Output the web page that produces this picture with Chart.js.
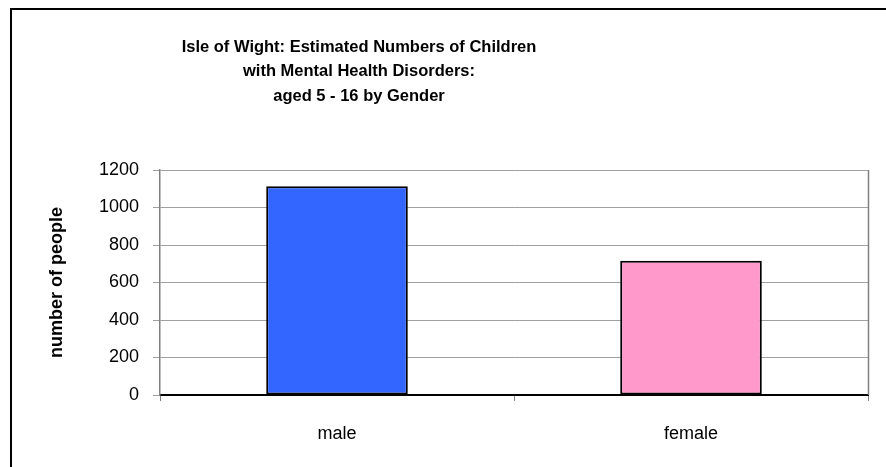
<!DOCTYPE html>
<html>
<head>
<meta charset="utf-8">
<script src="https://cdn.jsdelivr.net/npm/chart.js@4"></script>
<style>
  html, body { margin: 0; padding: 0; background: #fff; }
  #wrap { position: relative; width: 886px; height: 467px; }
</style>
</head>
<body>
<div id="wrap"><canvas id="chart" width="886" height="467"></canvas></div>
<script>
  // chart data
  const categories = ["male", "female"];
  const values = [1113, 716];
  const barColors = ["#3366FF", "#FF99CC"];
  const titleLines = [
    "Isle of Wight: Estimated Numbers of Children",
    "with Mental Health Disorders:",
    "aged 5 - 16 by Gender"
  ];
  const yTitle = "number of people";

  const FONT = "'Liberation Sans', Arial, sans-serif";

  // outer frame, title and plot border, drawn by hand like the excel original
  const framePlugin = {
    id: "frame",
    beforeDraw(chart) {
      const ctx = chart.ctx;
      ctx.save();
      ctx.fillStyle = "#fff";
      ctx.fillRect(0, 0, chart.width, chart.height);
      ctx.strokeStyle = "#000";
      ctx.lineWidth = 2;
      ctx.strokeRect(11, 9, 900, 500);
      ctx.restore();
    },
    afterDraw(chart) {
      const ctx = chart.ctx;
      const a = chart.chartArea;
      ctx.save();
      // right edge of plot area
      ctx.strokeStyle = "#808080";
      ctx.lineWidth = 1.5;
      ctx.beginPath();
      ctx.moveTo(a.right + 0.5, a.top);
      ctx.lineTo(a.right + 0.5, a.bottom);
      ctx.stroke();
      // title
      ctx.fillStyle = "#000";
      ctx.font = "bold 16.5px " + FONT;
      ctx.textAlign = "center";
      ctx.textBaseline = "middle";
      titleLines.forEach((t, i) => ctx.fillText(t, 359, 47 + i * 24.5));
      ctx.restore();
    }
  };

  new Chart(document.getElementById("chart"), {
    type: "bar",
    data: {
      labels: categories,
      datasets: [{
        data: values,
        backgroundColor: barColors,
        borderColor: "#000",
        borderWidth: 2,
        borderSkipped: false,
        barPercentage: 0.4,
        categoryPercentage: 1
      }]
    },
    options: {
      responsive: false,
      animation: false,
      layout: { padding: { left: 10, right: 18, top: 170, bottom: 0 } },
      plugins: {
        legend: { display: false },
        title: { display: false },
        tooltip: { enabled: false }
      },
      scales: {
        x: {
          afterFit(scale) { scale.height = 72; },
          grid: {
            drawOnChartArea: false,
            offset: true,
            tickLength: 6,
            color: "#808080"
          },
          border: { color: "#000", width: 2 },
          ticks: {
            color: "#000",
            padding: 22,
            font: { family: FONT, size: 18 }
          }
        },
        y: {
          min: 0,
          max: 1200,
          afterFit(scale) { scale.width = 150; },
          ticks: {
            stepSize: 200,
            color: "#000",
            padding: 14,
            font: { family: FONT, size: 18 },
            callback: (v) => String(v)
          },
          grid: {
            color: "#a0a0a0",
            tickLength: 7
          },
          border: { color: "#808080", width: 1.5 },
          title: {
            display: true,
            text: yTitle,
            color: "#000",
            padding: { top: 36 },
            font: { family: FONT, size: 18, weight: "bold" }
          }
        }
      }
    },
    plugins: [framePlugin]
  });
</script>
</body>
</html>
